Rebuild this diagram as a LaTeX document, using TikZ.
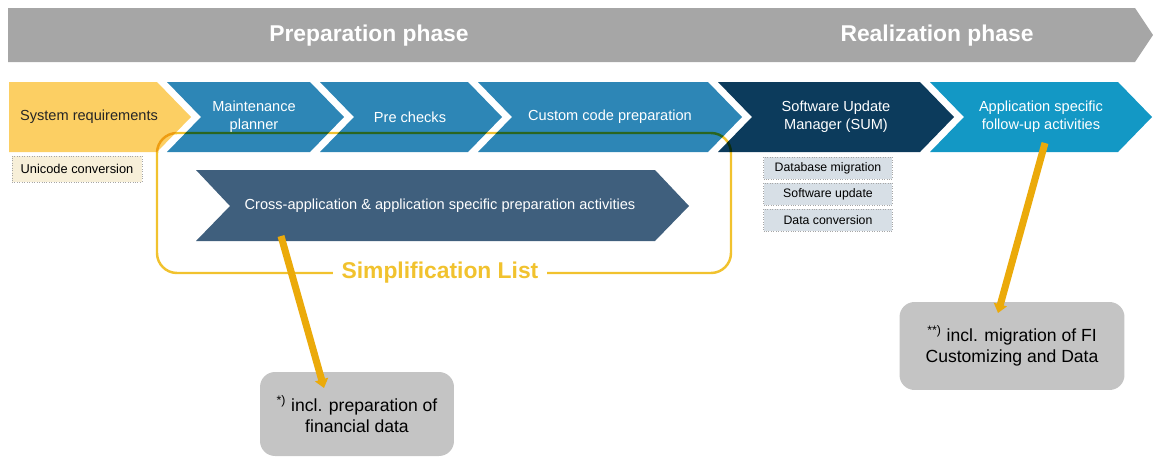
\documentclass[tikz,border=0pt]{standalone}
\usepackage{fontspec}
\setmainfont{Liberation Sans}
\usetikzlibrary{arrows.meta, positioning}

\definecolor{bandgray}{HTML}{A6A6A6}
\definecolor{chevyellow}{HTML}{FCCF63}
\definecolor{chevblue}{HTML}{2D86B6}
\definecolor{chevdark}{HTML}{0C3B5C}
\definecolor{chevapp}{HTML}{1398C5}
\definecolor{crossblue}{HTML}{3F5F7D}
\definecolor{unibox}{HTML}{F7EFD8}
\definecolor{sumbox}{HTML}{D7DFE6}
\definecolor{callgray}{HTML}{C4C4C4}
\definecolor{pointer}{HTML}{EBAA0A}
\definecolor{simpl}{HTML}{F1C22E}

\begin{document}
\begin{tikzpicture}[x=0.02cm, y=-0.02cm,
    phase/.style={text=white, font=\fontsize{13}{15}\selectfont\bfseries},
    chev/.style={text=white, align=center, font=\fontsize{8.3}{10.5}\selectfont},
    subbox/.style={draw=gray!70, densely dotted, fill=sumbox, minimum width=2.58cm, minimum height=0.44cm, inner sep=0pt, font=\fontsize{7}{8}\selectfont},
    callout/.style={fill=callgray, rounded corners=0.3cm, align=center, inner sep=0pt, font=\fontsize{10}{12}\selectfont},
    pointer/.style={draw=pointer, line width=4pt, -{Triangle[length=5pt,width=7.5pt]}}]
\useasboundingbox (0,0) rectangle (1153,457);

% phase band
\fill[bandgray] (8,8) -- (1135,8) -- (1153,35) -- (1135,62) -- (8,62) -- cycle;
\node[phase] (prep) at (369,36) {Preparation phase};
\node[phase] (real) at (937,36) {Realization phase};

% chevron row
\fill[chevyellow] (9,82) -- (157,82) -- (191,117) -- (157,152) -- (9,152) -- cycle;
\foreach \l/\r/\c in {167/310/chevblue, 320/468/chevblue, 478/708/chevblue, 718/920/chevdark, 930/1118/chevapp}
    \fill[\c] (\l,82) -- (\r,82) -- (\r+34,117) -- (\r,152) -- (\l,152) -- (\l+34,117) -- cycle;
\node[chev, text=black!85] (sysreq) at (89,117) {System requirements};
\node[chev] (mplan) at (254,117) {Maintenance\\planner};
\node[chev] (prechk) at (410,117) {Pre checks};
\node[chev] (ccode) at (610,117) {Custom code preparation};
\node[chev] (sum) at (836,117) {Software Update\\Manager (SUM)};
\node[chev] (follow) at (1041,117) {Application specific\\follow-up activities};

% simplification list frame
\begin{scope}[blend mode=multiply]
\draw[simpl, line width=1.4pt, rounded corners=0.4cm] (157,133) rectangle (731,273);
\end{scope}
\node[fill=white, text=simpl, inner xsep=5pt, font=\fontsize{13}{15}\selectfont\bfseries] (simpl) at (440,273) {Simplification List};

\fill[crossblue] (196,170) -- (655,170) -- (689,206) -- (655,241) -- (196,241) -- (230,206) -- cycle;
\node[chev] (cross) at (440,206) {Cross-application \& application specific preparation activities};

% sub steps
\node[subbox, fill=unibox, minimum width=2.6cm, minimum height=0.52cm, font=\fontsize{7.3}{8}\selectfont] (uni) at (77,169) {Unicode conversion};
\node[subbox] (dbmig) at (828,168) {Database migration};
\node[subbox] (swupd) at (828,194) {Software update};
\node[subbox] (dconv) at (828,220) {Data conversion};

% notes
\node[callout, minimum width=3.88cm, minimum height=1.68cm] (callA) at (357,414) {\textsuperscript{*)} incl. preparation of\\financial data};
\node[callout, minimum width=4.5cm, minimum height=1.76cm] (callB) at (1012,346) {\textsuperscript{**)} incl. migration of FI\\Customizing and Data};
\coordinate (tailA) at (281,236);
\coordinate (tipA) at (324,388);
\coordinate (tailB) at (1045,143);
\coordinate (tipB) at (998,313);
\draw[pointer] (tailA) -- (tipA);
\draw[pointer] (tailB) -- (tipB);
\end{tikzpicture}
\end{document}
